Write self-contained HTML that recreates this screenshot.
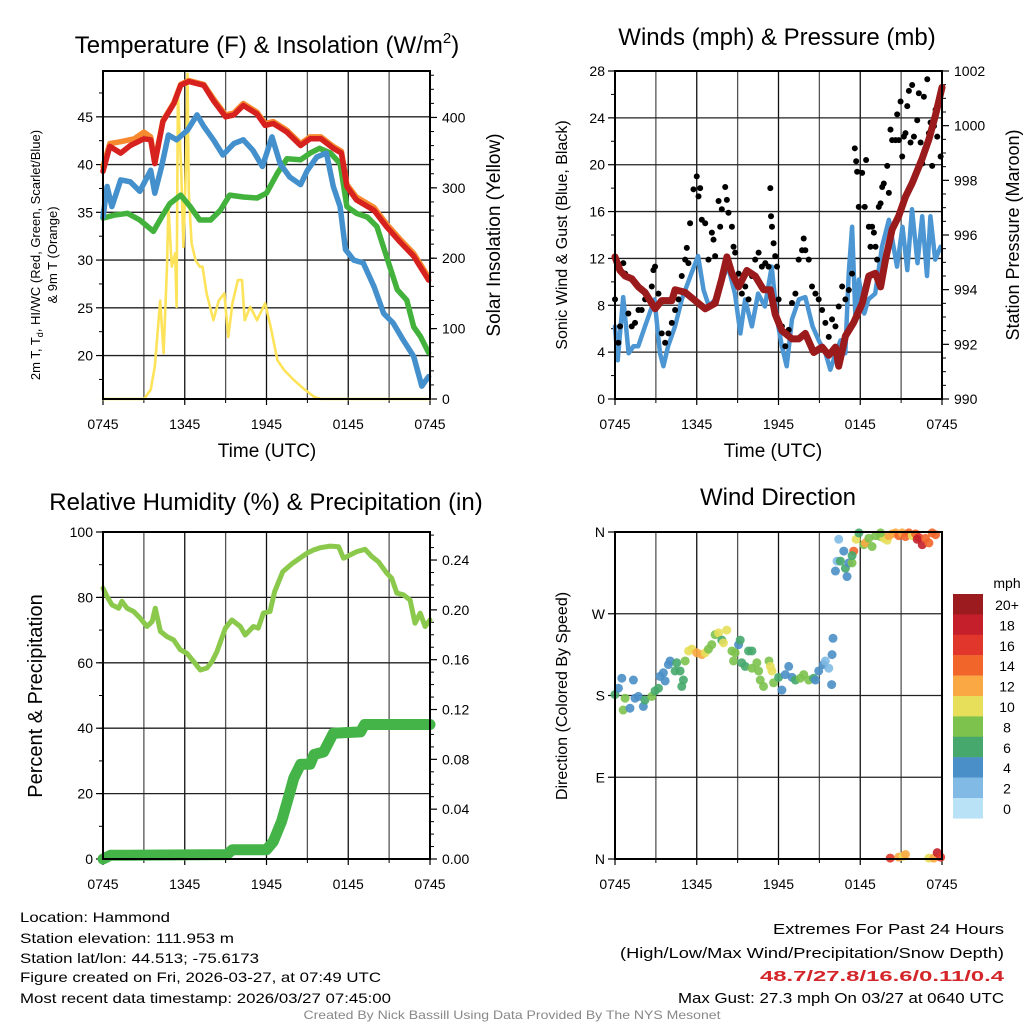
<!DOCTYPE html>
<html><head><meta charset="utf-8"><style>
html,body{margin:0;padding:0;background:#fff;}
svg{display:block;font-family:"Liberation Sans",sans-serif;}
</style></head><body>
<svg id="c" width="1024" height="1024" viewBox="0 0 1024 1024"></svg>
<script>
// ---------- DATA ----------
const timeTickLabels = ["0745","1345","1945","0145","0745"];
// Temperature panel (t = hours since 0745)
const redT = [0,0.5,1.3,2,3,3.5,3.8,4.4,5.2,5.7,6.3,7.4,8.1,9,9.6,10.3,11.3,11.9,12.5,13.5,14.5,15.2,16,16.9,17.5,17.9,18.6,19.9,20.8,21.8,22.8,23.9];
const redV = [39.3,41.9,41.2,42,42.7,42.6,40.1,44.5,46.4,48.3,48.7,48.3,46.7,45,45.2,46.2,45.3,44.1,44.3,43.4,42,42.7,42.7,41.7,41.2,37.7,36.3,35.2,33.5,31.9,30.4,27.9];
const orangeT = [0,0.5,1.3,2.3,3,3.5,3.8,4.4,5.2,5.7,6.3,7.4,8.1,9,9.6,10.3,11.3,11.9,12.5,13.5,14.5,15.2,16,16.9,17.5,17.9,18.6,19.9,20.8,21.8,22.8,23.9];
const orangeV = [39.8,42.2,42.4,42.7,43.4,42.9,40.3,44.6,46.5,48.4,48.8,48.4,46.9,45.2,45.4,46.4,45.5,44.3,44.5,43.6,42.2,42.9,42.9,41.9,41.4,37.9,36.6,35.5,33.8,32.2,30.7,28.2];
const blueT = [0,0.3,0.65,1.3,2,2.7,3.5,3.8,4.3,4.8,5.4,6.2,6.9,7.4,8.1,8.8,9.6,10.3,11,11.7,12.4,13,13.7,14.5,15,15.7,16.4,16.9,17.4,17.8,18.4,19.1,19.9,20.6,21.3,22,22.8,23.4,23.9];
const blueV = [34.5,37.7,35.6,38.4,38.2,37.2,39.4,37,39.8,43.1,42.6,43.6,45.2,44,42.6,41,42.2,42.6,41.5,39.8,42.9,40.1,38.7,37.9,39.4,40.8,41.2,37.7,35.6,31.1,30,29.7,27.2,24.4,23.4,21.7,19.9,16.8,17.8];
const greenT = [0,0.8,1.8,2.7,3.7,4.3,4.9,5.7,6.4,7.1,7.9,8.6,9.3,10.3,11.3,12,12.8,13.5,14.5,15.2,15.9,16.7,17.4,17.9,18.6,19.4,20.1,20.8,21.6,22.3,22.8,23.3,23.9];
const greenV = [34.4,34.7,34.9,34.2,33,34.5,35.9,36.8,35.6,34.2,34.2,35.2,36.8,36.6,36.5,37,39.1,40.6,40.5,41.2,41.7,41.2,40.1,35.6,34.9,34.5,33.5,30.4,26.9,25.8,23,22,20.3];
const solarT = [0,3,3.5,3.8,4.2,4.45,4.7,4.8,5.05,5.3,5.4,5.5,5.75,5.9,6.1,6.2,6.3,6.5,6.8,7.1,7.3,7.6,8.1,8.5,8.9,9.2,9.5,9.9,10.2,10.4,10.8,11.3,11.9,12.3,12.8,13.3,14,14.7,15.5,16,24];
const solarV = [0,0,13,46,140,65,188,273,188,207,131,434,320,216,339,462,292,221,197,188,188,150,112,140,150,88,136,169,169,112,131,112,136,103,55,41,27,15,3,0,0];
// Winds panel
const windT = [0,0.2,0.6,1,1.35,1.7,2.2,2.9,3.3,3.55,3.9,4.4,4.9,5.6,6.1,6.5,6.9,7.35,7.85,8.3,8.8,9.2,9.55,10.05,10.5,11,11.5,11.9,12.25,12.6,12.99,13.5,13.97,14.5,14.95,15.45,15.8,16.2,16.55,16.9,17.15,17.4,17.65,17.9,18.3,18.6,19.1,19.6,20.1,20.35,20.7,21.1,21.45,21.8,22.2,22.55,22.9,23.15,23.5,23.9];
const windV = [6.2,3.3,8.7,3.9,4.5,4.5,6.2,8.5,3.9,2.8,4.5,6.2,8.5,10.7,12.2,9.3,7.9,8.5,10.2,11.3,9,5.6,8.5,6.2,9,7.9,11.3,6.8,4.5,2.8,6.8,8.5,8.7,6.2,5,3.9,2.5,3.9,5,3.9,10.7,14.7,6.8,10.2,7.3,8.5,9,13,15.3,13.6,11.3,14.7,11,16.2,11.6,15.6,10.5,15.6,11.9,13];
const gustT = [0,0.25,0.37,0.61,0.74,0.98,1.23,1.47,1.72,1.96,2.21,2.7,2.82,2.94,3.19,3.43,3.68,3.92,4.17,4.41,4.66,4.9,5.15,5.27,5.39,5.51,5.76,6.0,6.13,6.25,6.37,6.62,6.86,7.11,7.23,7.35,7.6,7.72,7.84,8.09,8.21,8.33,8.58,8.7,8.82,9.07,9.31,9.56,9.8,10.05,10.29,10.54,10.78,11.03,11.27,11.4,11.45,11.52,11.64,11.76,11.89,12.01,12.25,12.5,12.75,12.99,13.24,13.48,13.73,13.85,13.97,14.22,14.46,14.71,14.95,15.2,15.44,15.69,15.93,16.18,16.42,16.67,16.91,17.16,17.4,17.6,17.7,17.77,17.89,18.14,18.33,18.43,18.63,18.75,18.87,19.0,19.12,19.24,19.36,19.49,19.61,19.73,19.98,20.1,20.22,20.34,20.59,20.71,20.83,20.96,21.08,21.2,21.32,21.45,21.57,21.69,21.81,21.94,22.18,22.3,22.43,22.55,22.67,22.92,23.04,23.16,23.28,23.41,23.53,23.65,23.9];
const gustV = [8.5,4.8,6.2,11.6,10.7,7.3,6.2,6.5,7.6,7.6,8.5,9.6,11,11.3,9,5.6,4.8,5.6,6.5,7.6,8.5,10.5,11.9,12.9,11.6,15,17.9,19,17.3,18,15.3,15,11.9,14.2,13.6,12.2,16.9,14.7,16.2,18.1,17,15.9,14.7,13,12.5,10.7,9,9.6,8.5,10.5,11.9,12.5,11.3,11.6,11.3,18,15.6,14.7,13.3,12.2,11.3,8.5,6.2,4.5,5.9,8.2,9,11.9,12.7,13.7,12.7,11.9,9.6,9,8.5,7.6,6.5,5.3,6.8,6.2,7.9,9.6,8.5,9.3,10.7,21.4,20.3,19.4,16.4,19.3,16.4,20.4,14.7,13,14.7,14.2,13,11.9,16.4,16.7,18.1,18.4,19.9,17.6,23,22.1,22.1,24.3,22.1,25.4,20.7,22.4,22.7,25,26.3,21.9,26.8,22.4,23.8,26.1,21.9,20.1,25.8,27.3,22.7,23.6,19.9,23.3,24.7,22.4,20.7];
const presT = [0,0.37,0.74,1.23,1.72,2.21,2.94,3.43,4.17,4.41,5.15,5.88,6.62,7.35,7.84,8.21,8.58,9.07,9.68,10.29,10.9,11.4,11.76,12.25,12.99,13.48,13.97,14.58,15.2,15.69,16.18,16.42,16.91,17.52,18.14,18.63,19.12,19.49,19.85,20.34,20.83,21.32,21.81,22.55,23.04,23.53,24];
const presV = [995.2,994.7,994.5,994.4,994.1,993.9,993.3,993.6,993.6,994,993.9,993.6,993.3,993.5,994.4,995.2,994.6,994.1,994.7,994.5,994,994,993.1,992.5,992.2,992.2,992.4,991.7,991.9,991.6,991.9,991.2,992.3,992.8,993.5,994.5,994.6,994.1,995.1,996.2,996.7,997.4,997.9,998.8,999.5,1000.4,1001.4];
// RH / precip panel
const rhT = [0,0.3,0.66,1.15,1.39,1.76,2.25,2.74,3.23,3.6,3.84,4.21,4.7,5.18,5.67,6.16,6.65,7.14,7.63,8.0,8.36,8.98,9.46,10.08,10.44,11.04,11.4,11.77,12.26,12.6,13.2,13.9,14.96,15.45,15.94,16.68,17.29,17.65,18.14,18.63,19.24,19.73,20.22,20.83,21.2,21.56,22.05,22.54,22.9,23.28,23.64,24];
const rhV = [82.8,80.2,77.7,76.7,78.8,76.7,75.7,73.6,71.1,72.6,76.7,69.6,68,67,64,62.9,60.4,57.8,58.4,60.4,63.4,70.6,73.1,71.1,68.5,71.1,70.6,75.2,75.7,81.8,87.9,90.4,93.5,94.5,95.2,95.7,95.5,92,93,94,94.7,92.5,90.9,87.4,85.8,81.3,80.8,79.2,72.1,75.2,71.1,73.1];
const precipT = [0,0.55,9.1,9.5,12.0,12.5,13.1,13.6,14.0,14.5,15.2,15.5,16.2,16.9,18.9,19.2,24];
const precipV = [0,0.003,0.0035,0.0075,0.0075,0.014,0.030,0.049,0.065,0.076,0.076,0.084,0.086,0.101,0.102,0.108,0.108];
// Wind direction panel
const dirT = [0,0.25,0.5,0.74,0.6,1.1,1.35,1.47,1.72,2.08,2.2,2.7,2.94,3.19,3.3,3.55,3.68,3.92,4.04,4.41,4.53,4.78,4.9,5.02,5.15,5.4,5.64,6,6.37,6.62,6.86,7.1,7.35,7.6,7.84,7.96,8.2,8.58,8.7,8.82,9.07,9.19,9.3,9.56,9.8,10.05,10.05,10.41,10.54,10.66,10.9,11.3,11.4,11.52,11.64,12.01,12.25,12.5,12.75,12.99,13.24,13.6,13.85,14.22,14.58,14.71,14.95,15.3,15.44,15.69,15.93,16.0,15.9,16.42,16.18,16.3,16.54,16.79,16.91,17.03,17.16,17.4,17.52,17.4,17.7,17.9,18.26,18.38,18.63,18.87,19.12,19.49,19.73,19.98,20.1,20.34,20.59,20.83,21.08,21.32,21.57,21.81,22.06,22.3,22.18,22.55,22.79,23.04,23.28,23.53,19.49,20.2,20.83,21.15,21.32,23.04,23.4,23.65,23.9];
const dirV = [181,188,199,177,164,166,197,177,179,168,175,179,185,188,201,205,196,214,218,207,216,207,190,197,218,229,231,227,225,227,231,236,247,249,241,238,252,229,218,227,236,241,216,212,229,229,210,216,207,197,190,218,212,207,194,200,186,203,212,200,197,199,203,197,199,197,207,214,218,210,225,243,192,352,317,328,328,339,320,311,326,326,339,334,352,359,346,348,353,344,356,355,353,351,356,358,359,356,359,355,359,356,358,354,352,346,353,348,359,357,359,1,2,3,5,1,1,7,2,2];
const dirS = [6,4,4,8,8,4,4,4,4,4,6,8,6,6,4,4,4,4,4,6,6,6,6,6,8,10,10,12,12,10,8,8,8,10,6,10,10,8,8,8,4,6,6,6,6,6,8,8,8,8,8,8,10,10,8,6,4,4,4,4,6,8,8,8,6,4,4,4,2,2,4,4,4,2,4,2,6,4,6,4,4,8,14,6,10,6,8,12,8,8,8,8,10,10,12,12,12,14,12,14,14,10,14,16,18,18,14,14,14,14,8,16,12,10,12,10,12,18,16];
const cbLabels = ["20+","18","16","14","12","10","8","6","4","2","0"];
const cbColors = ["#9b1b1e","#c41f2a","#e0362b","#f2652a","#f9a843","#e7df5a","#7cc24c","#46a86c","#4a8fc7","#80bae5","#b9e2f7"];

// ---------- DRAWING ----------
const NS="http://www.w3.org/2000/svg";
const svg=document.getElementById('c');
function el(tag,attrs,parent){const e=document.createElementNS(NS,tag);for(const k in attrs)e.setAttribute(k,attrs[k]);(parent||svg).appendChild(e);return e;}
function txt(s,x,y,size,anchor,parent,extra){const t=el('text',Object.assign({x:x,y:y,'font-size':size,'text-anchor':anchor||'start',fill:'#000'},extra||{}),parent);t.textContent=s;return t;}

function panel(name,x0,y0,x1,y1,ymin,ymax,yticks,yminor,r){
  const g=el('g',{});
  
  
  const P={g,x0,y0,x1,y1,ymin,ymax,r};
  P.x=t=>x0+t/24*(x1-x0);
  P.y=v=>y1-(v-ymin)/(ymax-ymin)*(y1-y0);
  P.ry=v=>y1-(v-r.min)/(r.max-r.min)*(y1-y0);
  for(let h=3;h<24;h+=3){const l=el('line',{x1:P.x(h),x2:P.x(h),y1:y0,y2:y1,stroke:h%6?'#555':'#111','stroke-width':1.3},g);}
  yticks.forEach(v=>{const yy=P.y(v.v);
    if(yy>y0+1&&yy<y1-1){const l=el('line',{x1:x0,x2:x1,y1:yy,y2:yy,stroke:'#222','stroke-width':1.3},g);}
    el('line',{x1:x0-7,x2:x0,y1:yy,y2:yy,stroke:'#000','stroke-width':1.2},g);
    const t=txt(v.l,x0-10,yy+5,14,'end',g);});
  yminor.forEach(v=>{const yy=P.y(v);el('line',{x1:x0-4,x2:x0,y1:yy,y2:yy,stroke:'#000','stroke-width':1},g);});
  if(r){ r.ticks.forEach(v=>{const yy=P.ry(v.v);el('line',{x1:x1,x2:x1+7,y1:yy,y2:yy,stroke:'#000','stroke-width':1.2},g);
      const t=txt(v.l,x1+12,yy+5,14,'start',g);});
    r.minor.forEach(v=>{const yy=P.ry(v);el('line',{x1:x1,x2:x1+4,y1:yy,y2:yy,stroke:'#000','stroke-width':1},g);});}
  timeTickLabels.forEach((s,i)=>{const xx=P.x(i*6);el('line',{x1:xx,x2:xx,y1:y1,y2:y1+6,stroke:'#000','stroke-width':1.2},g);
    const t=txt(s,xx,y1+30,14,'middle',g);});
  for(let h=3;h<24;h+=6){const xx=P.x(h);el('line',{x1:xx,x2:xx,y1:y1,y2:y1+4,stroke:'#000'},g);}
  P.plot=el('g',{},g);
  const f=el('rect',{x:x0,y:y0,width:x1-x0,height:y1-y0,fill:'none',stroke:'#000','stroke-width':2},g);
  
  return P;
}
function line(P,ts,vs,color,w,name,useR){
  let d='';ts.forEach((t,i)=>{d+=(i?'L':'M')+P.x(t).toFixed(1)+','+(useR?P.ry(vs[i]):P.y(vs[i])).toFixed(1);});
  const p=el('path',{d:d,fill:'none',stroke:color,'stroke-width':w,'stroke-linejoin':'round','stroke-linecap':'round'},P.plot);
  return p;
}
function range(a,b,s){const r=[];for(let v=a;v<=b+1e-9;v+=s)r.push(+v.toFixed(4));return r;}

const p1=panel('temperature-panel',103,71,430,399,15.45,49.8,
  [20,25,30,35,40,45].map(v=>({v,l:String(v)})),range(17.5,47.5,5),
  {min:0,max:466,ticks:[0,100,200,300,400].map(v=>({v,l:String(v)})),minor:range(20,460,20)});
line(p1,solarT,solarV,'#fde35a',2.6,'solar-insolation-line',true);
line(p1,greenT,greenV,'#42b23c',5.5,'dewpoint-line');
line(p1,blueT,blueV,'#4390cc',5.5,'heat-index-wind-chill-line');
line(p1,orangeT,orangeV,'#f7892f',5.5,'temp-9m-line');
line(p1,redT,redV,'#d7211f',5.5,'temp-2m-line');

const p2=panel('winds-panel',615,71,942,399,0,28,
  range(0,28,4).map(v=>({v,l:String(v)})),range(2,26,4),
  {min:990,max:1002,ticks:range(990,1002,2).map(v=>({v,l:String(v)})),minor:range(990.5,1001.5,0.5).filter(v=>v%2)});
line(p2,windT,windV,'#4c97d3',4.5,'sonic-wind-line');
gustT.forEach((t,i)=>{const c=el('circle',{cx:p2.x(t),cy:p2.y(gustV[i]),r:3,fill:'#000'},p2.plot);
  
  });
line(p2,presT,presV,'#9b1a1c',7,'pressure-line',true);

const p3=panel('humidity-panel',103,532,430,859,0,100,
  range(0,100,20).map(v=>({v,l:String(v)})),range(10,90,10),
  {min:0,max:0.2625,ticks:range(0,0.24,0.04).map(v=>({v,l:v.toFixed(2)})),minor:range(0.01,0.26,0.01).filter(v=>Math.round(v*100)%4)});
line(p3,rhT,rhV,'#8bc94c',5,'relative-humidity-line');
line(p3,precipT,precipV,'#45b448',11,'precipitation-line',true);

const p4=panel('wind-direction-panel',615,532,942,859,0,360,
  [{v:0,l:'N'},{v:90,l:'E'},{v:180,l:'S'},{v:270,l:'W'},{v:360,l:'N'}],[],null);
function spColor(s){const i=Math.min(10,Math.floor(s/2));return cbColors[10-i];}
dirT.forEach((t,i)=>{const c=el('circle',{cx:p4.x(t),cy:p4.y(dirV[i]),r:4.5,fill:spColor(dirS[i]),'fill-opacity':0.9},p4.plot);
  
  });
const cb=el('g',{});


cbColors.forEach((c,i)=>{el('rect',{x:953,y:594+i*20.4,width:30,height:20.6,fill:c},cb);txt(cbLabels[i],1007,594+i*20.4+16,14,'middle',cb);});
txt('mph',1007,588,14,'middle',cb);

function label(s,x,y,size,rot,name,extra){const t=txt(s,x,y,size,'middle',null,extra);if(rot)t.setAttribute('transform','rotate(-90 '+x+' '+y+')');
  return t;}
const t1=label('',267,53,24,0,'temperature-title');t1.innerHTML='Temperature (F) &amp; Insolation (W/m<tspan font-size="15" dy="-10">2</tspan><tspan dy="10">)</tspan>';
label('Winds (mph) & Pressure (mb)',777,45,24,0,'winds-title');
label('Relative Humidity (%) & Precipitation (in)',266,510,24,0,'humidity-title');
label('Wind Direction',778,505,24,0,'wind-direction-title');
label('Time (UTC)',267,457,19,0,'x-axis-title');
label('Time (UTC)',773,457,19,0,'x-axis-title-winds');
const yl=label('',40,255,13,1,'temperature-y-axis-title');yl.innerHTML='2m T, T<tspan font-size="9" dy="3">d</tspan><tspan dy="-3">, HI/WC (Red, Green, Scarlet/Blue)</tspan>';
label('& 9m T (Orange)',57,255,13,1,'temperature-y-axis-title-2');
label('Solar Insolation (Yellow)',500,235,19,1,'solar-y-axis-title');
label('Sonic Wind & Gust (Blue, Black)',567,235,16,1,'wind-y-axis-title');
label('Station Pressure (Maroon)',1019,235,18,1,'pressure-y-axis-title');
label('Percent & Precipitation',42,696,20,1,'humidity-y-axis-title');
label('Direction (Colored By Speed)',567,696,16,1,'direction-y-axis-title');

const info=[['Location: Hammond',922,150],['Station elevation: 111.953 m',943,214],['Station lat/lon: 44.513; -75.6173',963,239],['Figure created on Fri, 2026-03-27, at 07:49 UTC',982,361],['Most recent data timestamp: 2026/03/27 07:45:00',1003,371]];
info.forEach(a=>{const t=txt(a[0],20,a[1],14,'start',null,{textLength:a[2],lengthAdjust:'spacingAndGlyphs'});});
const ext=[['Extremes For Past 24 Hours',934,231,'#000','normal'],['(High/Low/Max Wind/Precipitation/Snow Depth)',958,384,'#000','normal'],['48.7/27.8/16.6/0.11/0.4',981,244,'#d4262a','bold'],['Max Gust: 27.3 mph On 03/27 at 0640 UTC',1003,326,'#000','normal']];
ext.forEach(a=>{const t=txt(a[0],1004,a[1],15,'end',null,{textLength:a[2],lengthAdjust:'spacingAndGlyphs',fill:a[3],'font-weight':a[4]});});
const cr=txt('Created By Nick Bassill Using Data Provided By The NYS Mesonet',512,1019,12,'middle',null,{fill:'#888',textLength:417,lengthAdjust:'spacingAndGlyphs'});


</script>
</body></html>
